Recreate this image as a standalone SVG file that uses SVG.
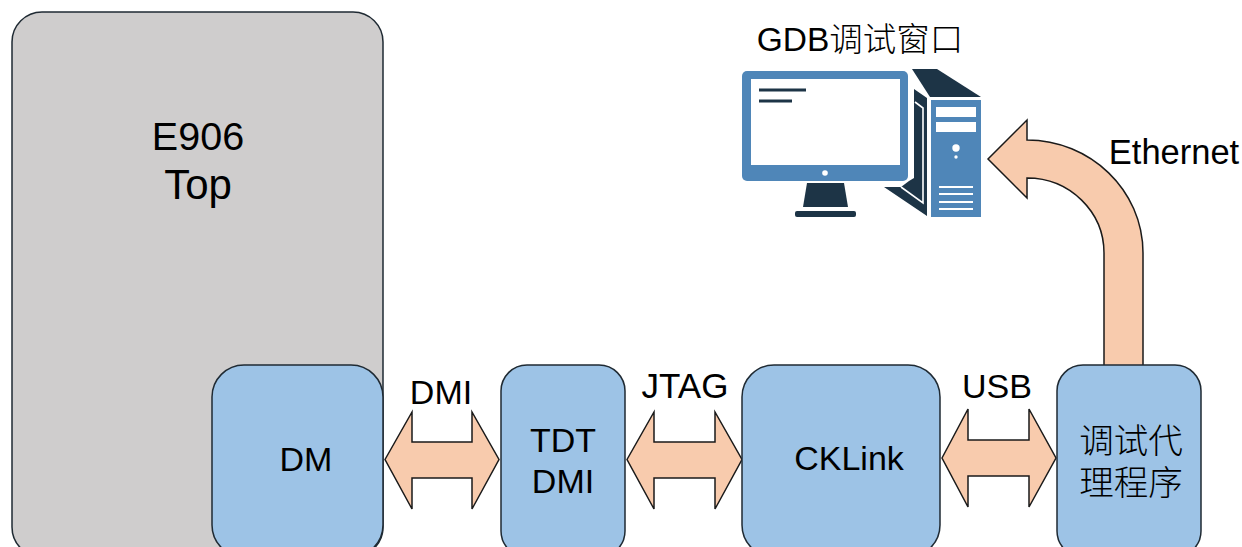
<svg xmlns="http://www.w3.org/2000/svg" width="1242" height="547" viewBox="0 0 1242 547">
<style>
text{font-family:"Liberation Sans","Noto Sans CJK SC",sans-serif;font-size:34px;fill:#000;text-anchor:middle}
.box{fill:#9dc3e6;stroke:#1f2a33;stroke-width:1.5}
.arrow{fill:#f8cbad;stroke:#1a1a1a;stroke-width:1.5;stroke-linejoin:miter}
.mon{fill:#4f86b8}.dark{fill:#1d3446}.w{fill:#fff}
</style>
<rect width="1242" height="547" fill="#fff"/>
<g id="node-e906"><rect x="12" y="12" width="371" height="545" rx="30" fill="#cfcdcd" stroke="#1f2a33" stroke-width="1.5"/>
<text x="198" y="150" style="font-size:39.500px">E906</text><text x="198" y="199" style="font-size:42px">Top</text></g>
<g id="connectors">
<path id="conn-dmi" class="arrow" d="M385 459.500L412 412V442H472V412L499 459.500L472 509V478H412V509Z"/>
<path id="conn-jtag" class="arrow" d="M627 459.500L654 412V442H715V412L742 459.500L715 509V478H654V509Z"/>
<path id="conn-usb" class="arrow" d="M942 458L968 409V440H1029V409L1056 458L1029 507V476H968V507Z"/>
<path id="conn-eth" class="arrow" d="M1104 366V253C1104 212 1070 178 1027 178V198L988 159L1027 120V140C1090 140 1143 190 1143 253V366"/>
</g>
<g id="node-dm"><rect class="box" x="212" y="365" width="171" height="192" rx="32"/><text x="306" y="471">DM</text></g>
<g id="node-tdt"><rect class="box" x="501" y="365" width="124" height="192" rx="26"/><text x="563" y="452">TDT</text><text x="563" y="493">DMI</text></g>
<g id="node-cklink"><rect class="box" x="742" y="365" width="198" height="192" rx="32"/><text x="849" y="470">CKLink</text></g>
<g id="node-agent"><rect class="box" x="1057" y="365" width="144" height="192" rx="26"/><text x="1131" y="453" style="font-size:34.500px;font-weight:300">调试代</text><text x="1131" y="495" style="font-size:34.500px;font-weight:300">理程序</text></g>
<g id="node-pc">
<text x="860" y="51" style="font-size:33.500px;font-weight:300">GDB调试窗口</text>
<rect class="mon" x="742" y="71" width="166" height="110" rx="5"/>
<rect class="w" x="751" y="79" width="149" height="86"/>
<rect class="dark" x="759" y="88.500" width="47" height="3"/><rect class="dark" x="759" y="99.500" width="33" height="3"/>
<circle class="w" cx="825" cy="173" r="2.800"/>
<path class="dark" d="M807 183H844L848 207H803Z"/>
<rect class="dark" x="795" y="211" width="61" height="6" rx="2"/>
<path class="dark" d="M912 69H937L981 97H930Z"/>
<path class="dark" d="M914 89L927 98V216L884 187H901L909 181L914 178Z"/>
<path d="M915 102L923 108V203L901 187" fill="none" stroke="#fff" stroke-width="1.600"/>
<rect class="mon" x="931" y="100" width="50" height="117"/>
<rect class="w" x="936" y="107" width="40" height="10"/><rect class="w" x="936" y="122" width="40" height="10"/>
<circle class="w" cx="956" cy="148" r="3.700"/><circle class="w" cx="956" cy="157" r="1.700"/>
<rect class="w" x="939" y="186" width="34" height="2"/><rect class="w" x="939" y="193" width="34" height="2"/><rect class="w" x="939" y="201" width="34" height="2"/><rect class="w" x="939" y="208" width="34" height="2"/>
</g>
<g id="labels">
<text x="441" y="404">DMI</text><text x="685" y="398" style="font-size:35px">JTAG</text><text x="997" y="398">USB</text><text x="1174" y="164" style="font-size:34.500px">Ethernet</text>
</g>
</svg>
